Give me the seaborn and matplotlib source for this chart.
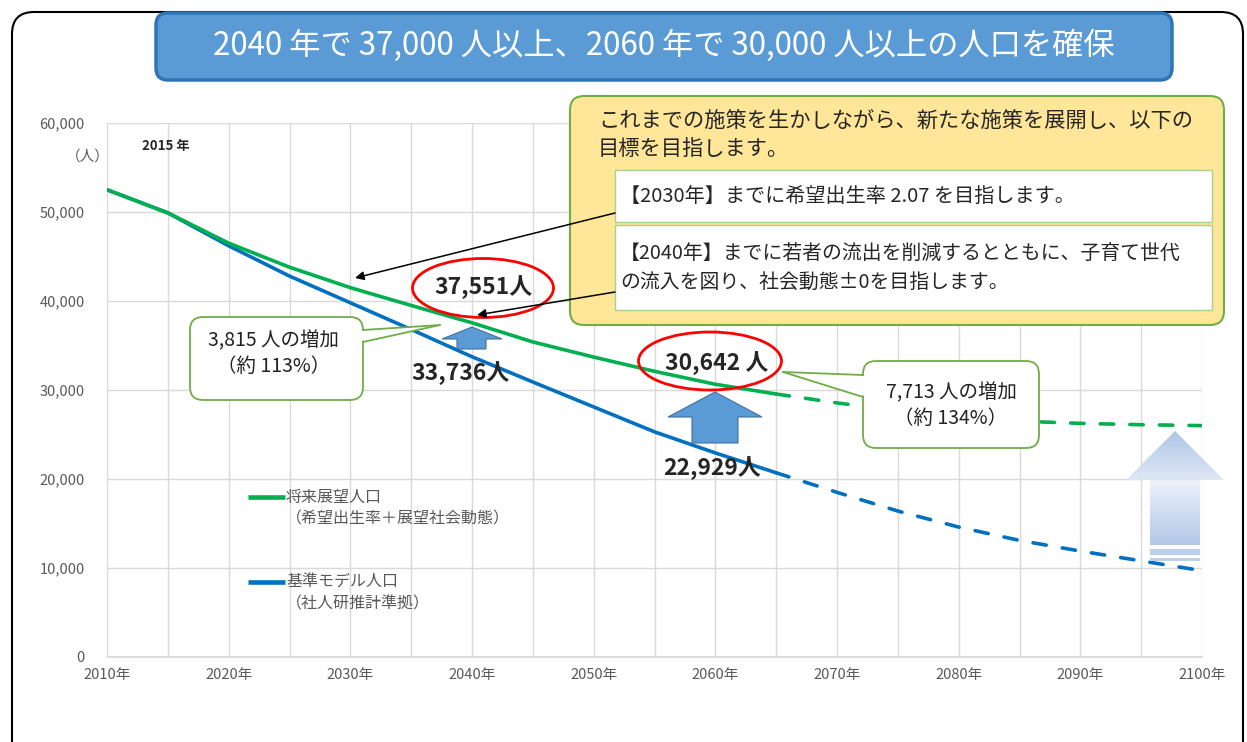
import matplotlib
matplotlib.use('Agg')
import matplotlib.pyplot as plt
import numpy as np
import pandas as pd
import seaborn as sns
from matplotlib.patches import FancyBboxPatch, Polygon, Ellipse, Rectangle
from matplotlib.colors import LinearSegmentedColormap

# data (5-year steps)
years = [2010, 2015, 2020, 2025, 2030, 2035, 2040, 2045, 2050, 2055,
         2060, 2065, 2070, 2075, 2080, 2085, 2090, 2095, 2100]
vision_pop = [52500, 49900, 46500, 43800, 41500, 39500, 37551, 35400, 33700, 32100,
              30642, 29550, 28550, 27700, 27000, 26500, 26250, 26100, 26000]
base_pop = [52500, 49900, 46200, 42800, 39800, 36800, 33736, 30900, 28100, 25300,
            22929, 20700, 18500, 16400, 14600, 13100, 11900, 10800, 9700]
projection_start = 2065

y_ticks = [0, 10000, 20000, 30000, 40000, 50000, 60000]
y_tick_labels = ['0', '10,000', '20,000', '30,000', '40,000', '50,000', '60,000']
x_ticks = list(range(2010, 2101, 5))
x_tick_labels = [f'{y}年' if y % 10 == 0 else '' for y in x_ticks]

series_names = ['将来展望人口', '基準モデル人口']
series_notes = ['（希望出生率＋展望社会動態）', '（社人研推計準拠）']

sns.set_theme(style='whitegrid')
plt.rcParams['font.family'] = ['Noto Sans CJK JP', 'DejaVu Sans']

GREEN = '#00B050'
BLUE = '#0070C0'
GRAY = '#595959'
W, H = 1247, 742

fig = plt.figure(figsize=(W / 100, H / 100), dpi=100)
ax = fig.add_axes([107 / W, 1 - 657 / H, (1202 - 107) / W, (657 - 123) / H])

df = pd.DataFrame({'year': years, 'vision': vision_pop, 'base': base_pop})
solid = df[df.year <= projection_start]
dashed = df[df.year >= projection_start]
for col, c in [('base', BLUE), ('vision', GREEN)]:
    sns.lineplot(data=solid, x='year', y=col, ax=ax, color=c, lw=2.6,
                 solid_capstyle='round', solid_joinstyle='round')
    sns.lineplot(data=dashed, x='year', y=col, ax=ax, color=c, lw=2.6,
                 linestyle=(0, (3.7, 4.5)), dash_capstyle='round')

ax.set_xlim(2010, 2100)
ax.set_ylim(0, 60000)
ax.set_xticks(x_ticks)
ax.set_xticklabels(x_tick_labels)
ax.set_yticks(y_ticks)
ax.set_yticklabels(y_tick_labels)
ax.set_xlabel('')
ax.set_ylabel('')
ax.grid(True, color='#D9D9D9', lw=1)
for s in ['top', 'right', 'left']:
    ax.spines[s].set_visible(False)
ax.spines['bottom'].set_color('#D9D9D9')
ax.tick_params(axis='x', length=0, pad=8, labelsize=10.5, labelcolor=GRAY)
ax.tick_params(axis='y', length=0, pad=16, labelsize=10.5, labelcolor=GRAY)
ax.set_facecolor('white')

# overlay in pixel coordinates for the poster decorations
ov = fig.add_axes([0, 0, 1, 1])
ov.set_xlim(0, W)
ov.set_ylim(H, 0)
ov.axis('off')
ov.set_zorder(5)
ov.patch.set_visible(False)

ov.add_patch(FancyBboxPatch((12, 12), 1231, 780, boxstyle='round,pad=0,rounding_size=22',
                            fill=False, ec='black', lw=1.5))

# title banner
ov.add_patch(FancyBboxPatch((156, 13), 1016, 67, boxstyle='round,pad=0,rounding_size=12',
                            fc='#5B9BD5', ec='#2E75B6', lw=2.5))
ov.text(664, 46, '2040 年で 37,000 人以上、2060 年で 30,000 人以上の人口を確保',
        color='white', fontsize=22.5, ha='center', va='center')

# yellow goal box
ov.add_patch(FancyBboxPatch((570, 96), 654, 229, boxstyle='round,pad=0,rounding_size=14',
                            fc='#FFE699', ec='#70AD47', lw=1.5))
ov.add_patch(Rectangle((615, 170), 597, 52, fc='white', ec='#A9D18E', lw=1))
ov.add_patch(Rectangle((615, 225), 597, 85, fc='white', ec='#A9D18E', lw=1))
ov.text(598, 121, 'これまでの施策を生かしながら、新たな施策を展開し、以下の', fontsize=15.3, va='center')
ov.text(598, 150, '目標を目指します。', fontsize=15.3, va='center')
ov.text(620, 197, '【2030年】までに希望出生率 2.07 を目指します。', fontsize=14.5, va='center')
ov.text(620, 254, '【2040年】までに若者の流出を削減するとともに、子育て世代', fontsize=14.3, va='center')
ov.text(620, 282, 'の流入を図り、社会動態±0を目指します。', fontsize=14.3, va='center')

for start, tip in [((615, 213), (355, 278)), ((615, 292), (477, 315))]:
    ov.annotate('', xy=tip, xytext=start,
                arrowprops=dict(arrowstyle='-|>', color='black', lw=1.1, mutation_scale=13,
                                shrinkA=0, shrinkB=0))

# red highlighted values
ov.add_patch(Ellipse((483, 288), 141, 59, fill=False, ec='red', lw=2))
ov.add_patch(Ellipse((710, 361), 143, 58, fill=False, ec='red', lw=2))
ov.text(483, 287, '37,551人', fontsize=16.5, fontweight='bold', ha='center', va='center')
ov.text(717, 363, '30,642 人', fontsize=16.5, fontweight='bold', ha='center', va='center')
ov.text(460, 373, '33,736人', fontsize=16.5, fontweight='bold', ha='center', va='center')
ov.text(712, 468, '22,929人', fontsize=16.5, fontweight='bold', ha='center', va='center')


def block_arrow(tip, head_y, head_x, shaft_x, bottom):
    pts = [tip, (head_x[1], head_y), (shaft_x[1], head_y), (shaft_x[1], bottom),
           (shaft_x[0], bottom), (shaft_x[0], head_y), (head_x[0], head_y)]
    ov.add_patch(Polygon(pts, closed=True, fc='#5B9BD5', ec='#41719C', lw=0.8))


block_arrow((472, 327), 339, (442, 502), (457, 486), 349)
block_arrow((715, 392), 417, (668, 762), (692, 738), 443)


def callout(x0, y0, x1, y1, base, tip, lines, tx, ty):
    ov.add_patch(FancyBboxPatch((x0, y0), x1 - x0, y1 - y0,
                                boxstyle='round,pad=0,rounding_size=13',
                                fc='white', ec='#70AD47', lw=1.3))
    inner = 2 if base[0][0] == x1 else -2
    ov.add_patch(Polygon([(base[0][0] - inner, base[0][1] + 1), tip,
                          (base[1][0] - inner, base[1][1] - 1)],
                         closed=True, fc='white', ec='none'))
    for b in base:
        ov.plot([b[0], tip[0]], [b[1], tip[1]], color='#70AD47', lw=1.3)
    for i, line in enumerate(lines):
        ov.text(tx, ty + i * 25, line, fontsize=14, ha='center', va='center', color='#222222')


callout(190, 317, 363, 400, [(363, 330), (363, 342)], (440, 325),
        ['3,815 人の増加', '（約 113%）'], 274, 341)
callout(863, 361, 1039, 448, [(863, 375), (863, 397)], (783, 372),
        ['7,713 人の増加', '（約 134%）'], 951, 393)

# legend drawn beside the lines
for (y, c, name, note) in [(497, GREEN, series_names[0], series_notes[0]),
                           (582, BLUE, series_names[1], series_notes[1])]:
    ov.plot([248, 285], [y, y], color=c, lw=3.3, solid_capstyle='butt')
    ov.text(286, y, name, fontsize=11.5, color=GRAY, va='center')
    ov.text(286, y + 22, note, fontsize=11.5, color=GRAY, va='center')

ov.text(142, 146, '2015 年', fontsize=9.5, fontweight='bold', va='center')
ov.text(66, 157, '（人）', fontsize=10.5, color=GRAY, va='center')

# gradient up arrow on the right
head = Polygon([(1175, 431), (1224, 480), (1126, 480)], closed=True, fc='none', ec='none')
shaft = Rectangle((1150, 480), 50, 65, fc='none', ec='none')
ov.add_patch(head)
ov.add_patch(shaft)
grad = np.linspace(0, 1, 100).reshape(-1, 1)
cm_head = LinearSegmentedColormap.from_list('h', ['#A4BFE3', '#DCE6F4'])
cm_shaft = LinearSegmentedColormap.from_list('s', ['#EEF2FA', '#B2C8E9'])
im1 = ov.imshow(grad, cmap=cm_head, extent=(1126, 1224, 480, 431), origin='upper',
                aspect='auto', alpha=0.9)
im1.set_clip_path(head)
im2 = ov.imshow(grad, cmap=cm_shaft, extent=(1150, 1200, 545, 480), origin='upper',
                aspect='auto')
im2.set_clip_path(shaft)
ov.add_patch(Rectangle((1150, 549), 50, 6, fc='#BCD0EC', ec='none'))
ov.add_patch(Rectangle((1150, 558), 50, 3, fc='#BCD0EC', ec='none'))
ov.set_xlim(0, W)
ov.set_ylim(H, 0)

fig.savefig('out.png', dpi=100, facecolor='white')
plt.close('all')
